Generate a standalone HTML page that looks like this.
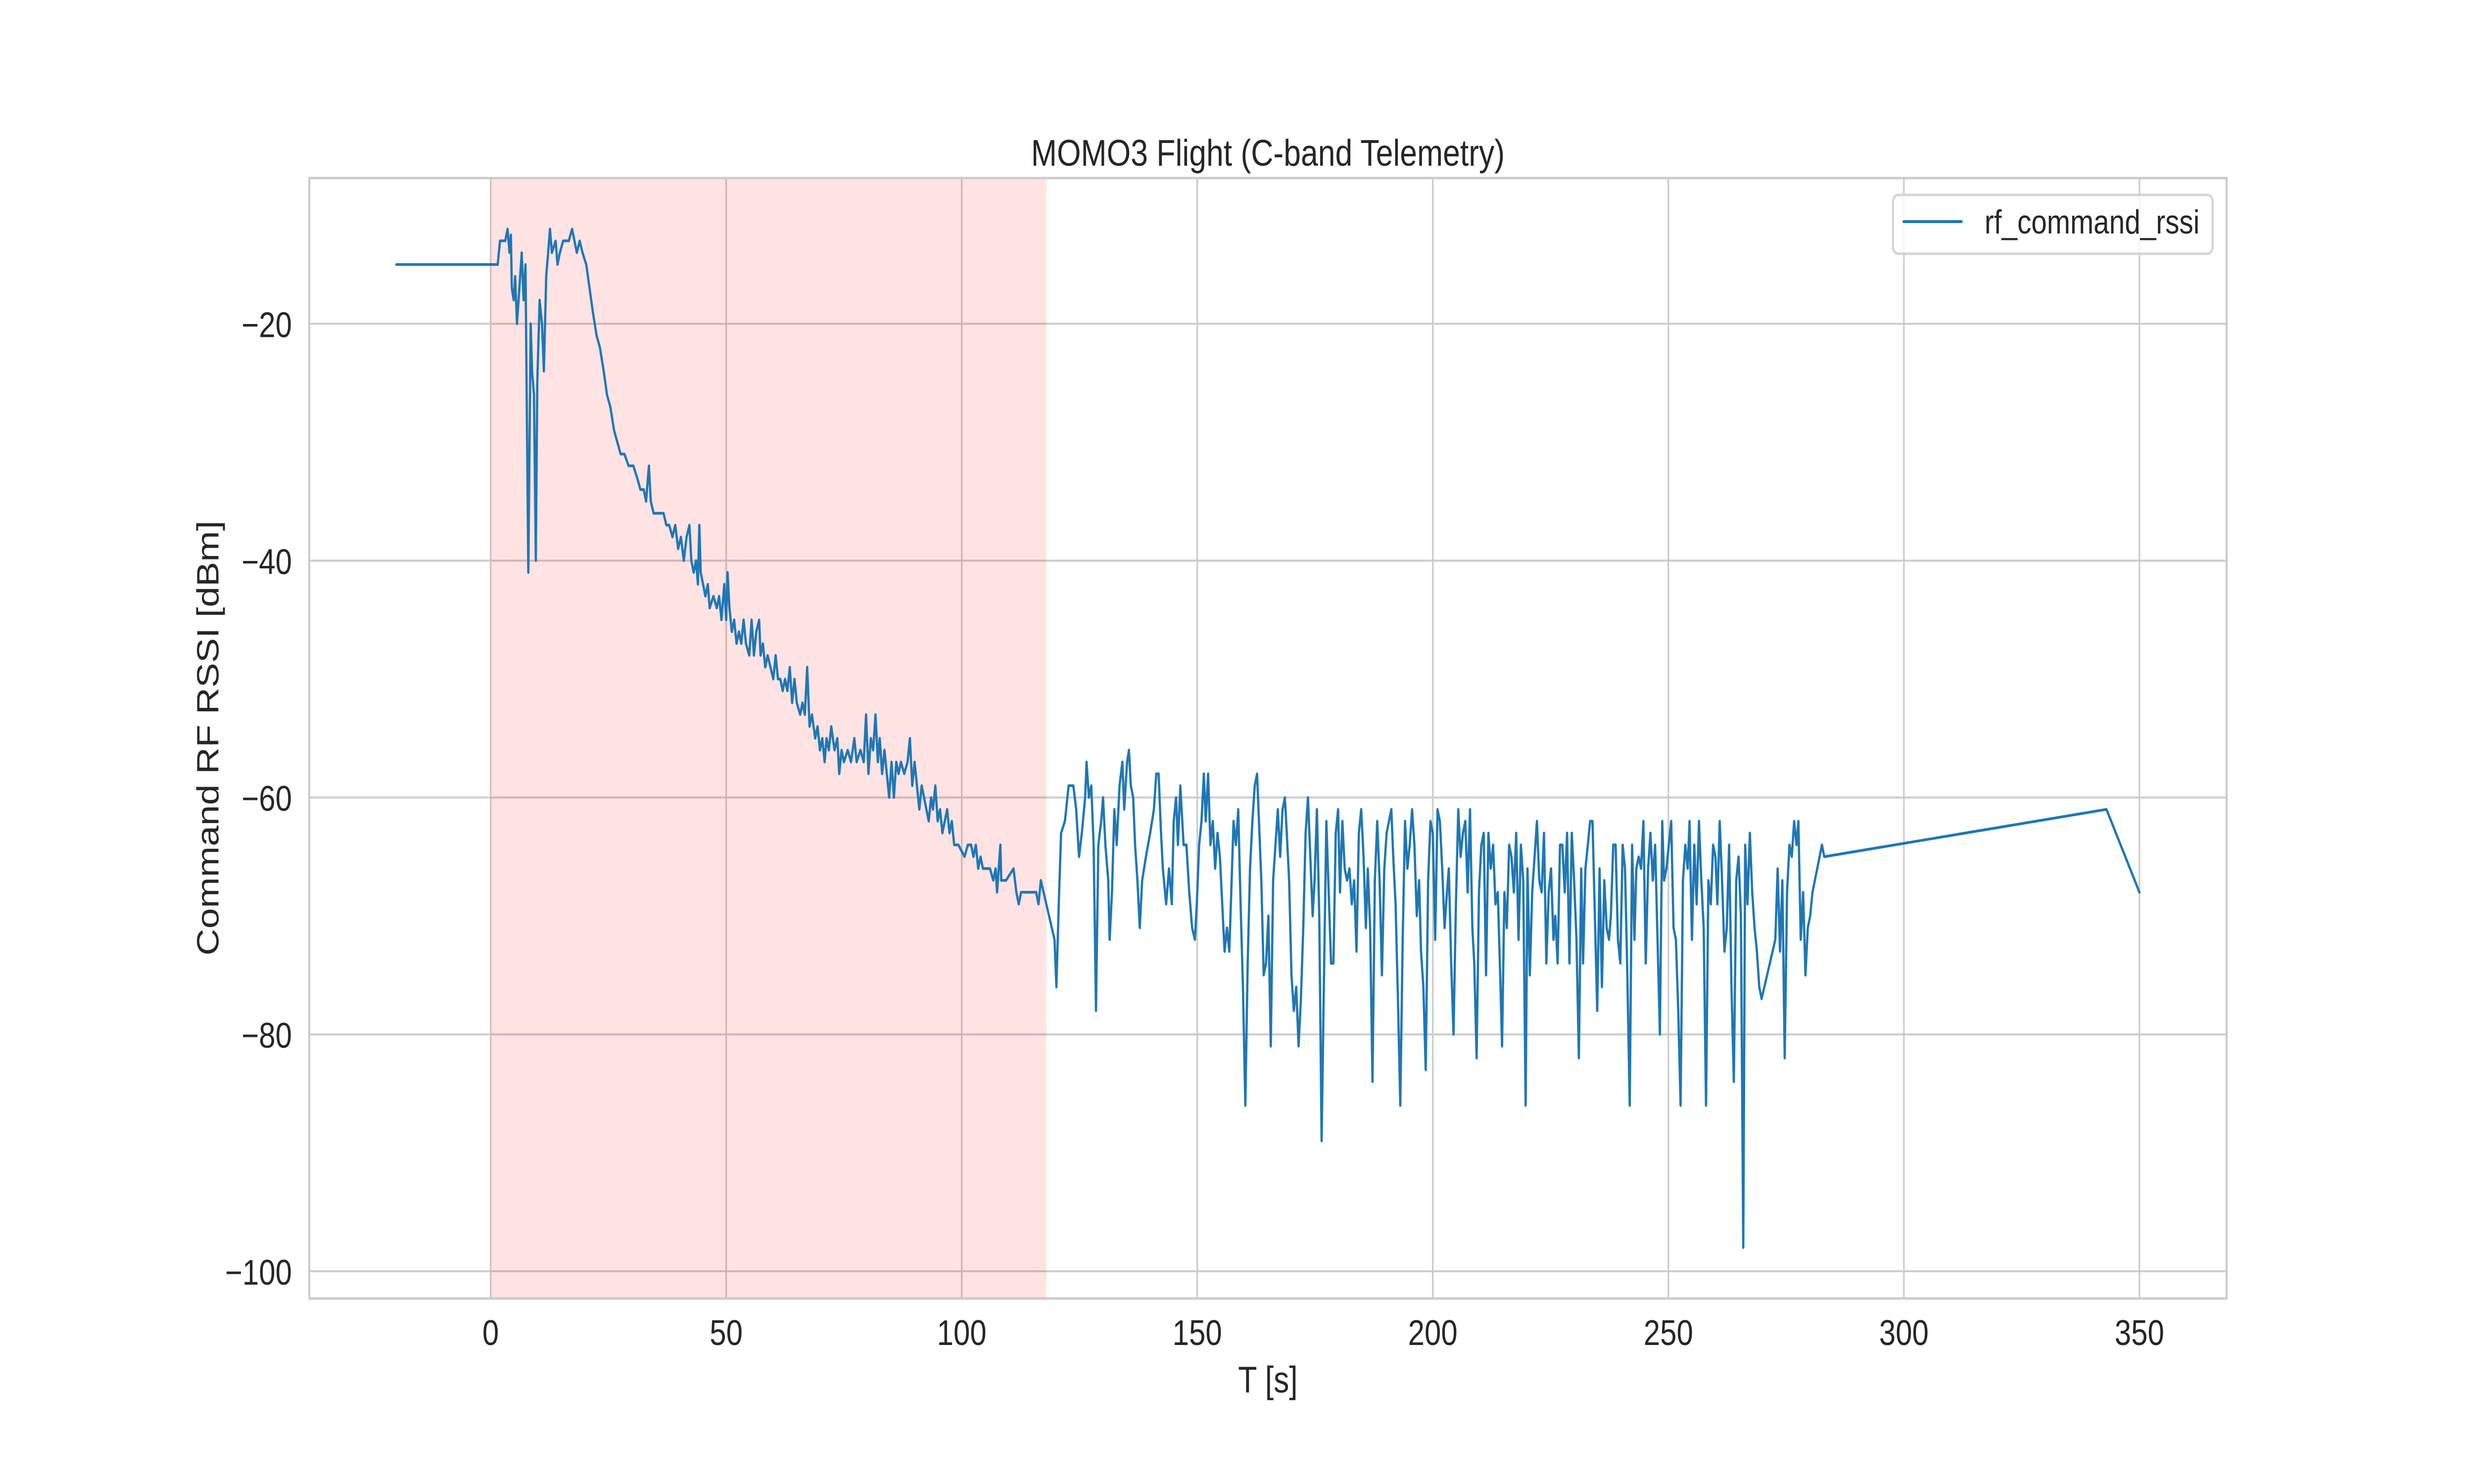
<!DOCTYPE html>
<html><head><meta charset="utf-8"><title>MOMO3 Flight (C-band Telemetry)</title>
<style>html,body{margin:0;padding:0;background:#fff;overflow:hidden;width:100%;height:100%}svg{display:block;width:100vw;height:100vh}text{font-family:"Liberation Sans",Arial,sans-serif;fill:#262626}</style>
</head><body>
<svg id="chart" viewBox="0 0 6000 3000" preserveAspectRatio="none" xmlns="http://www.w3.org/2000/svg">
<rect width="6000" height="3000" fill="#fff"/>
<g id="grid"></g>
<g id="shade"></g>
<g id="series"></g>
<g id="spines"></g>
<g id="ticks"></g>
<text x="3075" y="335" font-size="75" text-anchor="middle">MOMO3 Flight (C-band Telemetry)</text>
<text x="3075" y="2815" font-size="75" text-anchor="middle">T [s]</text>
<text x="0" y="0" font-size="75" text-anchor="middle" transform="translate(530,1492) rotate(-90)">Command RF RSSI [dBm]</text>
<g>
<rect x="4591" y="394" width="775" height="119" rx="13" fill="#fff" fill-opacity="0.8" stroke="#d4d4d4" stroke-width="5"/>
<line x1="4617" y1="448" x2="4757" y2="448" stroke="#1f77b4" stroke-width="6" stroke-linecap="round"/>
<text x="4813" y="472" font-size="68">rf_command_rssi</text>
</g>
</svg>
<script>
const xTicks = [0, 50, 100, 150, 200, 250, 300, 350];
const yTicks = [-100, -80, -60, -40, -20];
const xDomain = [-38.5, 368.5];
const yDomain = [-102.3, -7.7];
const shadeRange = [0, 118];
const times = [
-20,1.5,2.0,3.1,3.6,4.0,4.3,4.5,4.9,5.2,5.6,6.1,6.6,7.0,7.4,8.0,8.5,8.8,9.2,9.6,9.9,10.4,10.9,11.3,11.8,12.2,12.6,13.0,13.8,14.2,14.7,15.4,16.6,17.3,17.8,18.3,18.9,19.5,
20.3,21.0,21.7,22.5,23.2,24.0,24.7,25.4,26.2,26.9,27.6,28.4,29.3,30.3,31.1,31.8,32.5,33.0,33.6,34.0,34.6,35.7,36.7,37.3,37.9,38.6,39.2,39.8,
40.4,41.0,41.6,42.2,42.6,43.1,43.6,44.0,44.3,44.6,45.1,45.6,46.1,46.5,47.3,48.0,48.5,49.0,49.6,50.0,50.3,50.7,51.2,51.7,52.2,52.7,53.2,53.7,54.2,54.9,55.4,55.9,56.4,57.0,57.3,57.8,58.3,58.8,59.4,
60.0,60.5,61.0,61.5,62.0,62.5,63.0,63.5,64.0,64.5,65.0,65.7,66.2,66.7,67.2,67.7,68.2,68.9,69.4,69.9,70.4,70.9,71.3,71.8,72.3,73.0,73.6,74.0,74.5,75.0,75.8,76.5,77.2,77.7,78.5,79.2,79.7,
80.2,80.7,81.2,81.7,82.2,82.6,83.1,83.6,84.1,84.6,85.1,85.6,86.1,86.6,87.1,87.8,88.5,89.0,89.5,90.0,90.5,91.0,91.5,92.0,92.5,93.0,93.5,93.9,94.4,94.9,95.4,95.9,96.4,96.9,97.4,97.9,98.4,99.3,
100.6,101.3,102.0,102.5,103.0,103.5,104.0,104.5,105.2,106.0,106.7,107.2,107.5,108.2,108.4,109.4,111.0,111.6,112.1,112.6,115.8,116.3,116.8,119.7,120.1,120.6,121.1,
121.9,122.7,123.7,124.3,124.9,125.5,126.2,126.5,127.0,127.5,128.0,128.5,129.0,129.6,130.0,130.5,131.1,131.4,131.9,132.4,132.9,133.5,134.1,134.5,135.1,135.5,135.9,136.4,136.8,137.3,137.8,138.3,139.1,140.0,140.8,141.3,141.8,142.3,142.7,143.4,144.0,144.6,145.0,145.5,145.9,146.4,147.1,147.7,148.3,148.9,149.5,149.9,
150.4,150.9,151.4,151.8,152.3,152.8,153.3,153.8,154.3,154.8,
155.3,155.8,156.3,156.8,157.3,157.7,158.2,158.7,159.2,159.7,
160.2,160.7,161.2,161.7,162.2,162.7,163.2,163.6,164.1,164.6,
165.1,165.6,166.1,166.6,167.1,167.6,168.1,168.6,169.0,169.5,
170.0,170.5,171.0,171.5,172.0,172.5,173.0,173.5,174.0,174.5,
174.9,175.4,175.9,176.4,176.9,177.4,177.9,178.4,178.9,179.4,
179.9,180.3,180.8,181.3,181.8,182.3,182.8,183.3,183.8,184.3,
184.8,185.3,185.8,186.2,186.7,187.2,187.7,188.2,188.7,189.2,
189.7,190.2,190.7,191.2,191.6,192.1,192.6,193.1,193.6,194.1,
194.6,195.1,195.6,196.1,196.6,197.1,197.5,198.0,198.5,199.0,
199.5,200.0,200.5,201.0,201.5,202.0,202.5,203.0,203.4,203.9,
204.4,204.9,205.4,205.9,206.4,206.9,207.4,207.9,208.4,208.8,
209.3,209.8,210.3,210.8,211.3,211.8,212.3,212.8,213.3,213.8,
214.3,214.7,215.2,215.7,216.2,216.7,217.2,217.7,218.2,218.7,
219.2,219.7,220.1,220.6,221.1,221.6,222.1,222.6,223.1,223.6,
224.1,224.6,225.1,225.6,226.0,226.5,227.0,227.5,228.0,228.5,
229.0,229.5,230.0,230.5,231.0,231.5,231.9,232.4,232.9,233.4,
233.9,234.4,234.9,235.4,235.9,236.4,236.9,237.4,237.8,238.3,
238.8,239.3,239.8,240.3,240.8,241.3,241.8,242.3,242.8,243.2,
243.7,244.2,244.7,245.2,245.7,246.2,246.7,247.2,247.7,248.2,
248.7,249.1,249.6,250.1,250.6,251.1,251.6,252.1,252.6,253.1,
253.6,254.1,254.5,255.0,255.5,256.0,256.5,257.0,257.5,258.0,
258.5,259.0,259.5,260.0,260.4,260.9,261.4,261.9,262.4,262.9,
263.4,263.9,264.4,264.9,265.4,265.9,266.3,266.8,267.3,267.8,
268.3,268.8,269.3,269.8,
272.7,273.2,273.7,274.2,274.7,275.2,275.7,276.2,276.7,277.2,277.6,
278.1,278.6,279.1,279.6,280.1,280.6,281.1,281.6,282.1,282.6,283.1,
343,350
];
const rssi = [
-15,-15,-13,-13,-12,-14,-12.5,-17,-18,-16,-20,-17,-14,-18,-15,-41,-20,-24,-26,-40,-25,-18,-20,-24,-16,-14,-12,-14,-13,-15,-14,-13,-13,-12,-13,-14,-13,-14,
-15,-17,-19,-21,-22,-24,-26,-27,-29,-30,-31,-31,-32,-32,-33,-34,-34,-35,-32,-35,-36,-36,-36,-37,-37,-38,-37,-39,
-38,-40,-38,-37,-40,-41,-40,-42,-37,-41,-42,-43,-42,-44,-43,-44,-43,-45,-42,-45,-41,-44,-46,-45,-47,-46,-47,-45,-47,-48,-45,-48,-46,-45,-48,-47,-49,-48,-49,
-50,-48,-50,-50,-51,-50,-51,-49,-52,-50,-52,-53,-52,-53,-49,-54,-53,-55,-54,-56,-55,-57,-55,-56,-54,-56,-55,-58,-56,-57,-56,-57,-55,-57,-56,-57,-53,
-58,-55,-56,-53,-57,-55,-58,-56,-58,-60,-57,-60,-57,-58,-57,-58,-57,-55,-59,-57,-59,-61,-59,-60,-61,-62,-60,-61,-59,-62,-61,-63,-62,-61,-63,-62,-64,-64,
-65,-64,-64,-65,-64,-66,-65,-66,-66,-66,-67,-66,-68,-64,-67,-67,-66,-68,-69,-68,-68,-69,-67,-72,-76,-69,-63,
-62,-59,-59,-61,-65,-63,-60,-57,-60,-59,-64,-78,-64,-62,-60,-64,-67,-72,-68,-61,-64,-59,-57,-61,-57,-56,-59,-60,-64,-67,-71,-67,-65,-63,-61,-58,-58,-63,-66,-69,-66,-69,-62,-60,-64,-59,-64,-64,-68,-71,-72,-69,
-64,-62,-58,-62,-58,-64,-62,-66,-63,-65,
-69,-73,-71,-73,-67,-62,-64,-61,-69,-76,
-86,-74,-66,-62,-59,-58,-63,-67,-75,-74,
-70,-81,-67,-64,-61,-65,-61,-60,-63,-67,
-75,-78,-76,-81,-77,-71,-63,-60,-65,-70,
-67,-61,-70,-89,-75,-62,-68,-74,-74,-63,
-61,-68,-62,-66,-67,-66,-69,-67,-73,-63,
-61,-65,-71,-66,-71,-84,-67,-62,-67,-75,
-66,-63,-62,-61,-65,-69,-77,-86,-72,-62,
-66,-64,-61,-64,-70,-67,-73,-76,-83,-67,
-62,-63,-72,-61,-62,-66,-71,-68,-66,-74,
-80,-69,-61,-65,-63,-62,-68,-61,-71,-74,
-82,-68,-64,-63,-75,-63,-66,-64,-69,-68,
-75,-81,-68,-71,-64,-65,-68,-63,-72,-64,
-67,-86,-66,-75,-68,-65,-62,-67,-68,-63,
-74,-68,-66,-72,-70,-74,-64,-64,-68,-63,
-74,-63,-67,-72,-82,-66,-74,-66,-64,-62,
-62,-70,-78,-66,-76,-67,-71,-72,-70,-64,
-64,-72,-74,-64,-66,-75,-86,-64,-72,-66,
-65,-66,-62,-74,-66,-63,-67,-64,-72,-80,
-62,-67,-66,-64,-62,-71,-72,-78,-86,-67,
-64,-66,-62,-72,-64,-69,-62,-67,-71,-86,
-67,-69,-64,-65,-69,-62,-67,-73,-71,-64,
-76,-84,-67,-65,-70,-98,-64,-69,-63,-68,
-71,-73,-76,-77,
-72,-66,-73,-67,-82,-68,-64,-65,-62,-64,-62,
-72,-68,-75,-71,-70,-68,-67,-66,-65,-64,-65,
-61,-68
];
const plotLeft = 750, plotRight = 5400, plotTop = 360, plotBottom = 2625;
const NS = 'http://www.w3.org/2000/svg';
function xScale(v){return plotLeft + (v - xDomain[0]) / (xDomain[1] - xDomain[0]) * (plotRight - plotLeft);}
function yScale(v){return plotBottom - (v - yDomain[0]) / (yDomain[1] - yDomain[0]) * (plotBottom - plotTop);}
function mk(tag, attrs, parent){const e=document.createElementNS(NS,tag);for(const k in attrs)e.setAttribute(k,attrs[k]);parent.appendChild(e);return e;}
const grid=document.getElementById('grid'), shade=document.getElementById('shade'), series=document.getElementById('series'), spines=document.getElementById('spines'), ticks=document.getElementById('ticks');
xTicks.forEach(t=>{
  const gl=mk('line',{x1:xScale(t),x2:xScale(t),y1:plotTop,y2:plotBottom,stroke:'#cccccc','stroke-width':4},grid);
  
  
  const tl=mk('text',{x:xScale(t),y:2719,'font-size':72,'text-anchor':'middle'},ticks);
  tl.textContent=String(t);
  
  
});
yTicks.forEach(t=>{
  const gl=mk('line',{x1:plotLeft,x2:plotRight,y1:yScale(t),y2:yScale(t),stroke:'#cccccc','stroke-width':4},grid);
  
  
  const tl=mk('text',{x:708,y:yScale(t)+27,'font-size':72,'text-anchor':'end'},ticks);
  tl.textContent=String(t).replace('-','\u2212');
  
  
});
const sr=mk('rect',{x:xScale(shadeRange[0]),y:plotTop,width:xScale(shadeRange[1])-xScale(shadeRange[0]),height:plotBottom-plotTop,fill:'#ff0000','fill-opacity':0.11},shade);


let d='';
times.forEach((t,i)=>{d+=(i?'L':'M')+xScale(t).toFixed(1)+' '+yScale(rssi[i]).toFixed(1);});
const line=mk('path',{d:d,fill:'none',stroke:'#1f77b4','stroke-width':5.5,'stroke-linejoin':'round','stroke-linecap':'round'},series);


const frame=mk('rect',{x:plotLeft,y:plotTop,width:plotRight-plotLeft,height:plotBottom-plotTop,fill:'none',stroke:'#cccccc','stroke-width':5},spines);


</script>
</body></html>
